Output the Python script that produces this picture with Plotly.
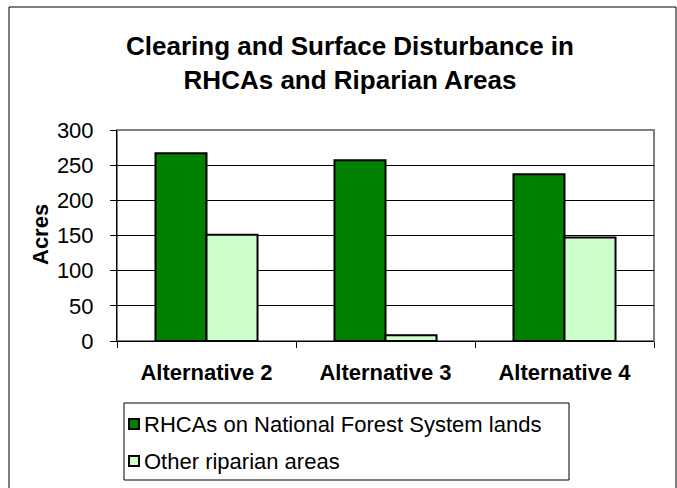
import plotly.graph_objects as go

categories = ["Alternative 2", "Alternative 3", "Alternative 4"]
rhca_values = [267, 257, 237]
other_values = [151, 8, 147]
series_names = ["RHCAs on National Forest System lands", "Other riparian areas"]
series_colors = ["#008000", "#CCFFCC"]
y_ticks = [0, 50, 100, 150, 200, 250, 300]

W, H = 677, 488
L, R, T, B = 117, 654, 130, 341
pw, ph = R - L, B - T

def px(x):
    return (x - L) / pw

def py(y):
    return (B - y) / ph

FONT = "Arial, Liberation Sans, sans-serif"

fig = go.Figure()
for name, vals, col in zip(series_names, [rhca_values, other_values], series_colors):
    fig.add_trace(go.Bar(x=categories, y=vals, name=name,
                         marker=dict(color=col, line=dict(color="black", width=2)),
                         showlegend=False))

fig.update_layout(
    width=W, height=H,
    margin=dict(l=L, r=W - R, t=T, b=H - B),
    paper_bgcolor="white", plot_bgcolor="white",
    barmode="group", bargap=0.43, bargroupgap=0,
    font=dict(family=FONT, color="black", size=22),
    title=dict(text="<b>Clearing and Surface Disturbance in<br>RHCAs and Riparian Areas</b>",
               x=350 / W, xanchor="center", y=1 - 55 / H, yanchor="top",
               font=dict(size=26, family=FONT, color="black")),
    showlegend=False,
)
fig.update_yaxes(range=[0, 300], tickvals=y_ticks, showgrid=True, gridcolor="black", gridwidth=1,
                 showline=True, linecolor="black", linewidth=1, ticks="outside", ticklen=6,
                 tickcolor="black", tickfont=dict(size=22, family=FONT), zeroline=False,
                 ticklabelstandoff=12)
fig.update_xaxes(showline=True, linecolor="black", linewidth=1, ticks="outside", ticklen=6,
                 tickcolor="black", tickson="boundaries",
                 tickprefix="<b>", ticksuffix="</b>",
                 tickfont=dict(size=22, family=FONT), ticklabelstandoff=12)

fig.add_annotation(text="<b>Acres</b>", textangle=-90, x=px(40), y=py(235), xref="paper", yref="paper",
                   xanchor="center", yanchor="middle",
                   showarrow=False, font=dict(size=22, family=FONT, color="black"))

# plot area border (gray top/right)
fig.add_shape(type="rect", xref="paper", yref="paper", x0=0, x1=1, y0=0, y1=1,
              line=dict(color="#808080", width=2), layer="below")
# legend box
fig.add_shape(type="rect", xref="paper", yref="paper", x0=px(124), x1=px(569), y0=py(480), y1=py(403),
              line=dict(color="black", width=1))
# legend entries
for i, (name, col) in enumerate(zip(series_names, series_colors)):
    yc = 424 + i * 37
    fig.add_shape(type="rect", xref="paper", yref="paper",
                  x0=px(129), x1=px(139), y0=py(yc + 5), y1=py(yc - 5),
                  fillcolor=col, line=dict(color="black", width=2))
    fig.add_annotation(text=name, x=px(142), y=py(yc), xref="paper", yref="paper",
                       xanchor="left", yanchor="middle", showarrow=False,
                       font=dict(size=22, family=FONT, color="black"))
# outer chart border
fig.add_shape(type="rect", xref="paper", yref="paper", x0=px(9), x1=px(676), y0=py(495), y1=py(7),
              line=dict(color="black", width=1))

fig.write_html("out.html", config={"displayModeBar": False},
               post_script="document.body.style.margin='0';")
